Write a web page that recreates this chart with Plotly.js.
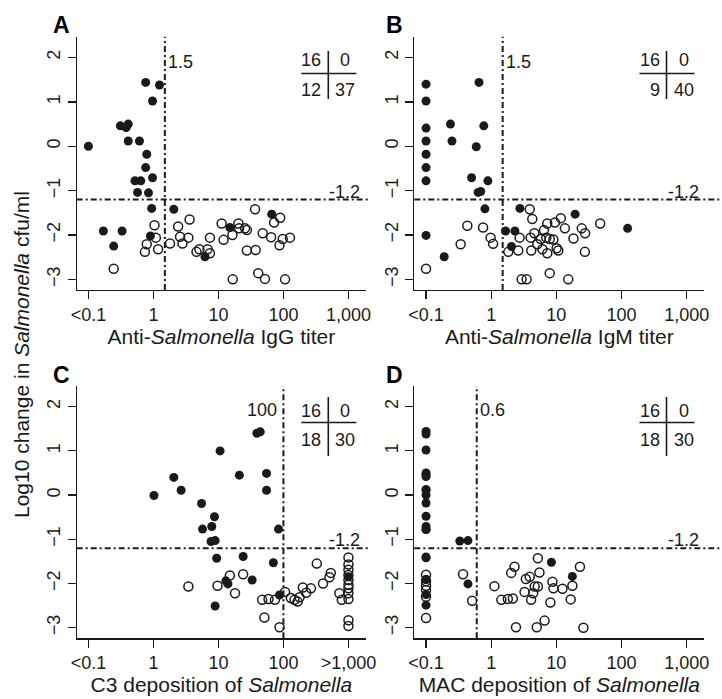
<!DOCTYPE html>
<html><head><meta charset="utf-8">
<script src="https://cdn.plot.ly/plotly-3.0.1.min.js"></script>
<style>html,body{margin:0;padding:0;background:#fff;}#chart{width:722px;height:699px;}</style>
</head><body><div id="chart"></div>
<script>
// ---------- data ----------
const panelLetters = ["A", "B", "C", "D"];
const xTitles = ["Anti-<i>Salmonella</i> IgG titer", "Anti-<i>Salmonella</i> IgM titer",
                 "C3 deposition of <i>Salmonella</i>", "MAC deposition of <i>Salmonella</i>"];
const xTickVals = [0.1, 1, 10, 100, 1000];
const xTickTextStd = ["&lt;0.1", "1", "10", "100", "1,000"];
const xTickTextC3 = ["&lt;0.1", "1", "10", "100", "&gt;1,000"];
const yTickVals = [-3, -2, -1, 0, 1, 2];
const xThresholds = [1.5, 1.5, 100, 0.6];
const xThresholdLabels = ["1.5", "1.5", "100", "0.6"];
const yThreshold = -1.2;
const yThresholdLabel = "-1.2";
const tableCounts = [[16, 0, 12, 37], [16, 0, 9, 40], [16, 0, 18, 30], [16, 0, 18, 30]];

// Panel A: anti-Salmonella IgG titer
const aFilledX = [0.1, 0.76, 1.24, 0.97, 0.31, 0.38, 0.41, 0.41, 0.61, 0.79, 0.76, 0.97, 0.52, 0.64, 0.57, 0.84,
                  0.94, 2.06, 0.17, 0.33, 0.245, 0.90, 6.2, 15, 66];
const aFilledY = [0.0, 1.44, 1.38, 1.02, 0.46, 0.42, 0.50, 0.12, 0.12, -0.18, -0.48, -0.71, -0.78, -0.78, -1.04, -1.05,
                  -1.40, -1.42, -1.91, -1.91, -2.25, -2.02, -2.49, -1.83, -1.53];
const aOpenX = [0.245, 1.04, 1.09, 0.79, 0.74, 1.18, 1.8, 2.4, 2.57, 2.8, 3.45, 3.6, 4.6, 5.1, 6.8, 7.4, 7.4,
                11.2, 12, 16.4, 16.6, 20.3, 20.8, 25.7, 27.4, 27.4, 36.6, 37.4, 41, 48, 52, 64.6, 71.8, 89, 87, 97.6, 126, 106];
const aOpenY = [-2.76, -1.78, -2.06, -2.21, -2.38, -2.32, -2.19, -1.81, -2.04, -2.19, -2.06, -1.65, -2.38, -2.32, -2.32, -2.41, -2.06,
                -1.74, -2.11, -2.0, -3.0, -1.74, -1.85, -1.85, -1.89, -2.35, -1.42, -2.34, -2.86, -1.96, -2.99, -2.05, -1.72, -1.61, -2.23, -2.09, -2.06, -3.0];

// Panel B: anti-Salmonella IgM titer
const bFilledX = [0.1, 0.1, 0.1, 0.1, 0.1, 0.1, 0.1, 0.1, 0.65, 0.237, 0.25, 0.77, 0.59, 0.50, 0.89, 0.63, 0.69,
                  0.80, 0.19, 1.66, 2.31, 2.05, 2.76, 19.4, 124];
const bFilledY = [1.40, 1.02, 0.41, 0.12, -0.18, -0.48, -0.78, -2.01, 1.44, 0.50, 0.12, 0.46, -0.01, -0.71, -0.78, -1.04, -1.02,
                  -1.41, -2.49, -1.91, -1.91, -2.26, -1.40, -1.53, -1.85];
const bOpenX = [0.1, 0.43, 0.34, 0.75, 0.98, 1.07, 1.83, 2.73, 2.6, 2.93, 3.5, 3.9, 4.27, 4.03, 4.12, 4.6, 5.1, 5.75, 6.1,
                6.45, 7.0, 7.25, 7.25, 7.9, 7.9, 9, 9.5, 10.1, 10.7, 11.7, 13.5, 15.2, 18.3, 24.5, 27.6, 27.4, 47];
const bOpenY = [-2.76, -1.79, -2.21, -1.83, -2.06, -2.20, -2.38, -2.06, -2.35, -3.0, -3.0, -1.42, -1.64, -2.06, -2.35, -1.96, -2.21, -2.09, -2.32,
                -1.89, -2.06, -1.74, -2.41, -2.09, -2.86, -2.10, -1.72, -2.30, -2.35, -1.62, -1.85, -3.0, -2.08, -1.85, -1.96, -2.38, -1.74];

// Panel C: C3 deposition
const cFilledX = [1.02, 2.06, 2.67, 5.5, 5.7, 7.9, 8.7, 7.7, 8.9, 10.6, 21, 39, 44, 55, 55, 84,
                  9.4, 24, 70, 13, 14, 33, 8.9, 87, 1000];
const cFilledY = [-0.01, 0.40, 0.11, -0.19, -0.77, -0.71, -0.49, -1.05, -1.03, 1.0, 0.45, 1.40, 1.43, 0.49, 0.11, -0.77,
                  -1.43, -1.39, -1.53, -1.94, -2.01, -1.92, -2.51, -2.26, -1.85];
const cOpenX = [3.45, 9.7, 15, 18, 24, 47, 51, 59, 74, 87, 106, 130, 148, 165, 177, 199, 224, 265, 326, 406, 510, 535, 725, 790,
                1000, 1000, 1000, 1000, 1000, 1000, 1000, 1000, 1000, 1000, 1000];
const cOpenY = [-2.07, -2.05, -1.82, -2.22, -1.79, -2.37, -2.77, -2.35, -2.37, -2.99, -2.19, -2.33, -2.37, -2.41, -2.31, -2.09, -2.21, -2.11, -1.55, -2.0, -1.86, -1.76, -2.22, -2.37,
                -1.41, -1.57, -1.69, -1.81, -1.92, -2.03, -2.11, -2.22, -2.35, -2.83, -2.96];

// Panel D: MAC deposition
const dFilledX = [0.1, 0.1, 0.1, 0.1, 0.1, 0.1, 0.1, 0.1, 0.1, 0.1, 0.1, 0.1, 0.1, 0.1, 0.1, 0.1, 0.1, 0.1, 0.1, 0.1,
                  0.33, 0.44, 0.44, 8.4, 17.6];
const dFilledY = [1.44, 1.38, 1.02, 0.50, 0.46, 0.42, 0.12, 0.12, 0.0, -0.18, -0.48, -0.71, -0.78, -0.78, -1.40, -1.42, -1.91, -1.91, -2.25, -2.49,
                  -1.04, -1.03, -2.01, -1.52, -1.84];
const dOpenX = [0.1, 0.1, 0.1, 0.1, 0.1, 0.1, 0.37, 0.51, 1.12, 1.43, 1.8, 2.15, 2.28, 2.03, 2.4, 3.25, 3.4, 3.9, 4.1, 4.4,
                4.65, 5.2, 5.2, 5.5, 5.0, 6.6, 8.1, 8.7, 9, 12.4, 16.6, 17.6, 23, 26];
const dOpenY = [-1.80, -1.95, -2.05, -2.15, -2.30, -2.78, -1.79, -2.39, -2.06, -2.37, -2.35, -2.34, -1.62, -1.76, -2.99, -2.19, -1.90, -1.85, -2.37, -2.22,
                -2.07, -2.07, -1.43, -1.75, -2.99, -2.84, -2.43, -1.96, -2.11, -2.12, -2.36, -2.05, -1.62, -3.0];

const filledX = [aFilledX, bFilledX, cFilledX, dFilledX];
const filledY = [aFilledY, bFilledY, cFilledY, dFilledY];
const openX = [aOpenX, bOpenX, cOpenX, dOpenX];
const openY = [aOpenY, bOpenY, cOpenY, dOpenY];

// ---------- layout helpers ----------
const W = 722, H = 699;
const FONT = "Liberation Sans, Arial, Helvetica, sans-serif";
const INK = "#1a1a1a";
const px = v => v / W;
const py = v => 1 - v / H;
const xDom = [[76.7, 366], [414.3, 704.3], [76.7, 366], [414.3, 704.3]];
const yDom = [[36.7, 290], [36.7, 290], [385.9, 638.3], [385.9, 638.3]];
const DASH = "6px,3px,2px,3px";

const traces = [];
const layout = {
  width: W, height: H,
  margin: {l: 0, r: 0, t: 0, b: 0},
  paper_bgcolor: "#fff", plot_bgcolor: "#fff",
  showlegend: false,
  font: {family: FONT, color: INK, size: 18},
  shapes: [], annotations: []
};

for (let i = 0; i < 4; i++) {
  const s = i === 0 ? "" : String(i + 1);
  const xa = "x" + s, ya = "y" + s;
  traces.push({
    type: "scatter", mode: "markers", x: openX[i], y: openY[i], xaxis: xa, yaxis: ya,
    marker: {symbol: "circle-open", size: 9, color: INK, line: {width: 1.5, color: INK}},
    hoverinfo: "x+y", cliponaxis: false
  });
  traces.push({
    type: "scatter", mode: "markers", x: filledX[i], y: filledY[i], xaxis: xa, yaxis: ya,
    marker: {symbol: "circle", size: 9, color: INK, line: {width: 0}},
    hoverinfo: "x+y", cliponaxis: false
  });
  layout["xaxis" + s] = {
    domain: [px(xDom[i][0]), px(xDom[i][1])], anchor: ya,
    type: "log", range: [-1.18, 3.27],
    tickvals: xTickVals, ticktext: i === 2 ? xTickTextC3 : xTickTextStd,
    ticks: "outside", ticklen: 8, tickwidth: 1.2, tickcolor: INK,
    showline: true, linecolor: INK, linewidth: 1.2,
    showgrid: false, zeroline: false,
    tickfont: {family: FONT, size: 18, color: INK},
    title: {text: xTitles[i], font: {family: FONT, size: 21, color: INK}, standoff: 3},
    fixedrange: true
  };
  layout["yaxis" + s] = {
    domain: [py(yDom[i][1]), py(yDom[i][0])], anchor: xa,
    range: [-3.24, 2.47],
    tickvals: yTickVals, tickangle: -90,
    ticks: "outside", ticklen: 8, tickwidth: 1.2, tickcolor: INK,
    showline: true, linecolor: INK, linewidth: 1.2,
    showgrid: false, zeroline: false,
    tickfont: {family: FONT, size: 18, color: INK},
    fixedrange: true
  };
  // threshold lines
  layout.shapes.push({type: "line", xref: xa, yref: ya + " domain", x0: xThresholds[i], x1: xThresholds[i], y0: 0, y1: 1,
                      line: {color: INK, width: 2, dash: DASH}});
  layout.shapes.push({type: "line", xref: xa + " domain", yref: ya, x0: 0, x1: (i % 2 === 0 ? 1.015 : 1.06), y0: yThreshold, y1: yThreshold,
                      line: {color: INK, width: 2, dash: DASH}});
  // threshold labels
  const leftLabel = i === 2;
  layout.annotations.push({text: xThresholdLabels[i], xref: xa, yref: ya + " domain",
                           x: Math.log10(xThresholds[i]), y: i < 2 ? 0.9 : 0.905,
                           xanchor: leftLabel ? "right" : "left", xshift: leftLabel ? -4 : 1, yanchor: "middle",
                           showarrow: false, font: {family: FONT, size: 18, color: INK}});
  layout.annotations.push({text: yThresholdLabel, xref: xa + " domain", yref: ya,
                           x: i % 2 === 0 ? 0.985 : 0.99, y: yThreshold, xanchor: "right", yanchor: "middle", yshift: 8,
                           showarrow: false, font: {family: FONT, size: 18, color: INK}});
  // panel letter
  const lx = i % 2 === 0 ? 61 : 394;
  const ly = i < 2 ? 25 : 375;
  layout.annotations.push({text: "<b>" + panelLetters[i] + "</b>", xref: "paper", yref: "paper",
                           x: px(lx), y: py(ly), xanchor: "center", yanchor: "middle", showarrow: false,
                           font: {family: FONT, size: 23, color: "#000"}});
  // 2x2 count table
  const vx = i % 2 === 0 ? 328.3 : 666.5;
  const top = i < 2;
  const vTop = top ? 51 : 397, vBot = top ? 99 : 456;
  const hY = top ? 73.5 : 422.5;
  const r1 = top ? 60 : 411, r2 = top ? 90 : 440;
  layout.shapes.push({type: "line", xref: "paper", yref: "paper", x0: px(vx), x1: px(vx), y0: py(vTop), y1: py(vBot),
                      line: {color: INK, width: 1.6}});
  layout.shapes.push({type: "line", xref: "paper", yref: "paper", x0: px(vx - 27), x1: px(vx + 28), y0: py(hY), y1: py(hY),
                      line: {color: INK, width: 1.6}});
  const c = tableCounts[i];
  [[c[0], r1, "right"], [c[1], r1, "center"], [c[2], r2, "right"], [c[3], r2, "center"]].forEach(([v, ry, anc]) => {
    layout.annotations.push({text: String(v), xref: "paper", yref: "paper",
                             x: px(anc === "right" ? vx - 5 : vx + 17), y: py(ry),
                             xanchor: anc, yanchor: "middle", showarrow: false,
                             font: {family: FONT, size: 18, color: INK}});
  });
}

layout.annotations.push({text: "Log10 change in <i>Salmonella</i> cfu/ml", xref: "paper", yref: "paper",
                         x: px(21), y: py(355), textangle: -90, xanchor: "center", yanchor: "middle",
                         showarrow: false, font: {family: FONT, size: 21, color: INK}});

Plotly.newPlot("chart", traces, layout, {displayModeBar: false, staticPlot: true});
</script>
</body></html>
